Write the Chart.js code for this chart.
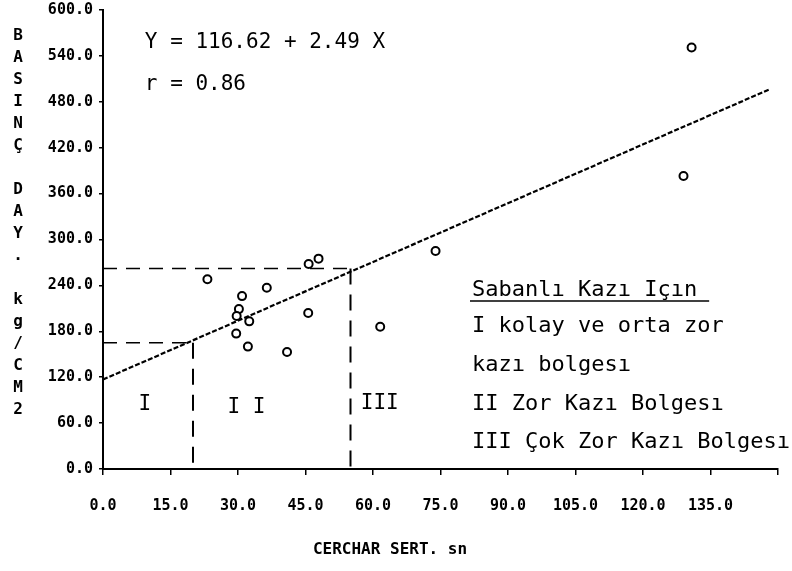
<!DOCTYPE html>
<html>
<head>
<meta charset="utf-8">
<script src="https://cdn.jsdelivr.net/npm/chart.js@4/dist/chart.umd.min.js"></script>
<style>
html,body{margin:0;padding:0;background:#fff;}
canvas{display:block;}
</style>
</head>
<body>
<canvas id="c" width="792" height="571"></canvas>
<script>
// ---- data ----
const pointX = [23.2, 30.9, 36.4, 30.2, 29.7, 32.5, 29.6, 32.2, 40.9, 45.6, 45.7, 47.9, 61.6, 73.9, 129.0, 130.8];
const pointY = [248, 226, 237, 209, 200, 193, 177, 160, 153, 204, 268, 275, 186, 285, 383, 551];
const fitX = [0, 148];
const fitY = [117, 496];
const boundaryX = [20, 55];        // vertical dashed limits between zones
const boundaryY = [165, 262];      // corresponding horizontal dashed levels
const yTickValues = [0, 60, 120, 180, 240, 300, 360, 420, 480, 540, 600];
const xTickValues = [0, 15, 30, 45, 60, 75, 90, 105, 120, 135];
const yTitle = "BASINÇ DAY. kg/CM2";
const xTitle = "CERCHAR SERT. sn";
const equationLines = ["Y = 116.62 + 2.49 X", "r = 0.86"];
const legendLines = ["Sabanlı Kazı Içın", "I kolay ve orta zor", "kazı bolgesı", "II Zor Kazı Bolgesı", "III Çok Zor Kazı Bolgesı"];
const zoneLabels = ["I", "I I", "III"];
const zoneLabelX = [9.3, 31.9, 61.5];
const zoneLabelY = [84, 80, 85];
const equationPos = {x: 9.3, y: [558, 502]};
const legendPos = {x: 82, y: [234, 186, 135, 84, 35]};

const MONO = "'DejaVu Sans Mono', 'Liberation Mono', monospace";

const pts = pointX.map((x, i) => ({x: x, y: pointY[i]}));
const fit = fitX.map((x, i) => ({x: x, y: fitY[i]}));

const annot = {
  id: 'annot',
  afterDraw(chart) {
    const ctx = chart.ctx;
    const xs = chart.scales.x, ys = chart.scales.y;
    ctx.save();
    ctx.fillStyle = '#000';
    ctx.strokeStyle = '#000';
    // stacked y title
    ctx.font = "bold 16px " + MONO;
    ctx.textAlign = 'center';
    ctx.textBaseline = 'middle';
    for (let i = 0; i < yTitle.length; i++) {
      const ch = yTitle[i];
      if (ch === ' ') continue;
      ctx.fillText(ch, 18, 36 + i * 22);
    }
    // x title
    ctx.font = "bold 16px " + MONO;
    ctx.fillText(xTitle, 390, 550);
    // equation text
    ctx.font = "21px " + MONO;
    ctx.textAlign = 'left';
    equationLines.forEach((t, i) => {
      ctx.fillText(t, xs.getPixelForValue(equationPos.x), ys.getPixelForValue(equationPos.y[i]));
    });
    // legend text
    ctx.font = "22px " + MONO;
    legendLines.forEach((t, i) => {
      ctx.fillText(t, xs.getPixelForValue(legendPos.x), ys.getPixelForValue(legendPos.y[i]));
    });
    // underline of legend heading
    const w = ctx.measureText(legendLines[0]).width;
    const lx = xs.getPixelForValue(legendPos.x);
    const ly = ys.getPixelForValue(legendPos.y[0]) + 11;
    ctx.lineWidth = 1.5;
    ctx.beginPath();
    ctx.moveTo(lx - 2, ly);
    ctx.lineTo(lx + w + 12, ly);
    ctx.stroke();
    // zone labels
    ctx.font = "21px " + MONO;
    ctx.textAlign = 'center';
    zoneLabels.forEach((t, i) => {
      ctx.fillText(t, xs.getPixelForValue(zoneLabelX[i]), ys.getPixelForValue(zoneLabelY[i]));
    });
    ctx.restore();
  }
};

new Chart(document.getElementById('c'), {
  type: 'scatter',
  data: {
    datasets: [
      {
        type: 'line', data: fit, borderColor: '#000', borderWidth: 2.2,
        borderDash: [5, 2], pointRadius: 0, fill: false, order: 2
      },
      {
        type: 'line', data: [{x: 0, y: boundaryY[0]}, {x: boundaryX[0], y: boundaryY[0]}],
        borderColor: '#000', borderWidth: 1.5, borderDash: [14, 9], pointRadius: 0, order: 3
      },
      {
        type: 'line', data: [{x: boundaryX[0], y: boundaryY[0]}, {x: boundaryX[0], y: 0}],
        borderColor: '#000', borderWidth: 2, borderDash: [16, 10], pointRadius: 0, order: 3
      },
      {
        type: 'line', data: [{x: 0, y: boundaryY[1]}, {x: boundaryX[1], y: boundaryY[1]}],
        borderColor: '#000', borderWidth: 1.5, borderDash: [14, 9], pointRadius: 0, order: 3
      },
      {
        type: 'line', data: [{x: boundaryX[1], y: boundaryY[1]}, {x: boundaryX[1], y: 0}],
        borderColor: '#000', borderWidth: 2, borderDash: [16, 10], pointRadius: 0, order: 3
      },
      {
        data: pts, pointRadius: 4, pointBorderWidth: 2, borderColor: '#000',
        backgroundColor: '#fff', pointBackgroundColor: '#fff', order: 1
      }
    ]
  },
  options: {
    responsive: false,
    animation: false,
    devicePixelRatio: 1,
    layout: {padding: {left: 0, right: 14, top: 10, bottom: 0}},
    plugins: {legend: {display: false}, tooltip: {enabled: false}},
    scales: {
      x: {
        type: 'linear', min: 0, max: 150,
        afterBuildTicks: (s) => { s.ticks = xTickValues.concat([150]).map(v => ({value: v})); },
        afterFit: (s) => { s.height = 102; s.paddingRight = 0; s.paddingLeft = 0; },
        ticks: {
          color: '#000', padding: 22, maxRotation: 0, autoSkip: false,
          font: {family: MONO, size: 15, weight: 'bold'},
          callback: (v) => (v === 150 ? '' : Number(v).toFixed(1))
        },
        grid: {drawOnChartArea: false, color: '#000', tickLength: 6, lineWidth: 1.5},
        border: {color: '#000', width: 2}
      },
      y: {
        type: 'linear', min: 0, max: 600,
        afterBuildTicks: (s) => { s.ticks = yTickValues.map(v => ({value: v})); },
        afterFit: (s) => { s.width = 103; s.paddingTop = 0; s.paddingBottom = 0; },
        ticks: {
          color: '#000', padding: 6, autoSkip: false,
          font: {family: MONO, size: 15, weight: 'bold'},
          callback: (v) => Number(v).toFixed(1)
        },
        grid: {drawOnChartArea: false, color: '#000', tickLength: 4, lineWidth: 1.5},
        border: {color: '#000', width: 2}
      }
    }
  },
  plugins: [annot]
});
</script>
</body>
</html>
